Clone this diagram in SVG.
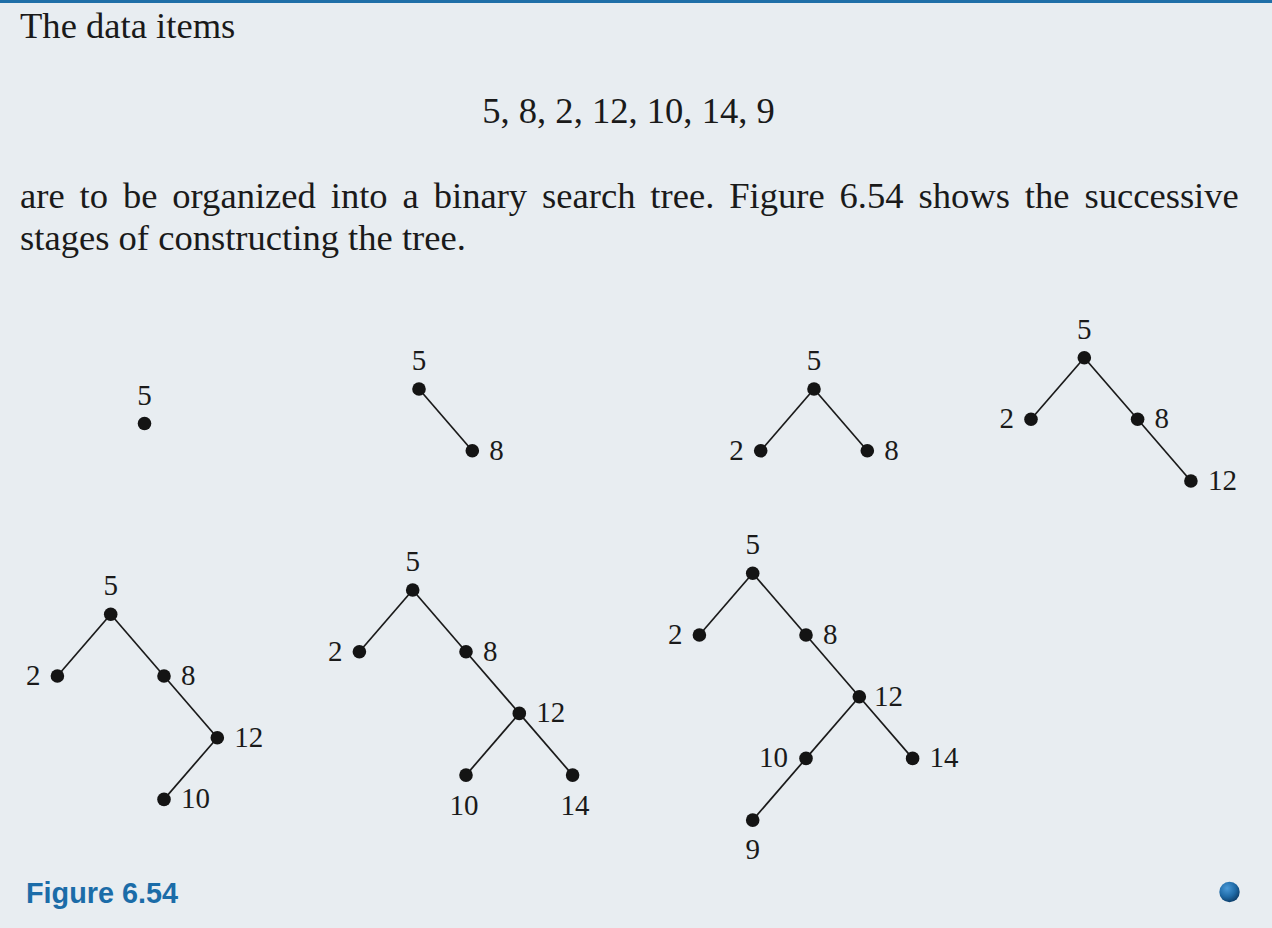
<svg xmlns="http://www.w3.org/2000/svg" width="1272" height="928" viewBox="0 0 1272 928">
<defs>
<style>
.bg{fill:#e8edf1}
.body{font-family:"Liberation Serif","Times New Roman",serif;font-size:36.6px;fill:#1a1a1a}
.lbl{font-family:"Liberation Serif","Times New Roman",serif;font-size:29px;fill:#1a1a1a}
.mid{text-anchor:middle}
.end{text-anchor:end}
.dot{fill:#141414}
.edge{stroke:#1a1a1a;stroke-width:1.7;fill:none}
.cap{font-family:"Liberation Sans",Arial,sans-serif;font-weight:bold;font-size:28.8px;fill:#1b6ca8}
</style>
<radialGradient id="ball" cx="0.38" cy="0.32" r="0.7">
<stop offset="0" stop-color="#4a9ad8"/>
<stop offset="0.6" stop-color="#1f6aa6"/>
<stop offset="1" stop-color="#0d3f6b"/>
</radialGradient>
</defs>
<rect class="bg" x="0" y="0" width="1272" height="928"/>
<rect x="0" y="0" width="1272" height="3" fill="#1f6fa8"/>

<g id="intro">
<text class="body" x="20" y="38">The data items</text>
<text class="body mid" x="628.5" y="123">5, 8, 2, 12, 10, 14, 9</text>
<text class="body" x="20" y="208" word-spacing="5.75">are to be organized into a binary search tree. Figure 6.54 shows the successive</text>
<text class="body" x="20" y="250">stages of constructing the tree.</text>
</g>

<g id="connectors">
<!-- tree 2 -->
<line class="edge" x1="419" y1="389" x2="472.3" y2="450.7"/>
<!-- tree 3 -->
<line class="edge" x1="814" y1="389" x2="760.7" y2="450.7"/>
<line class="edge" x1="814" y1="389" x2="867.3" y2="450.7"/>
<!-- tree 4 -->
<line class="edge" x1="1084.3" y1="357.7" x2="1031" y2="419.3"/>
<line class="edge" x1="1084.3" y1="357.7" x2="1137.6" y2="419.3"/>
<line class="edge" x1="1137.6" y1="419.3" x2="1190.9" y2="481"/>
<!-- tree 5 -->
<line class="edge" x1="110.7" y1="614.3" x2="57.4" y2="676"/>
<line class="edge" x1="110.7" y1="614.3" x2="164" y2="676"/>
<line class="edge" x1="164" y1="676" x2="217.3" y2="737.7"/>
<line class="edge" x1="217.3" y1="737.7" x2="164" y2="799.4"/>
<!-- tree 6 -->
<line class="edge" x1="412.7" y1="590" x2="359.4" y2="651.7"/>
<line class="edge" x1="412.7" y1="590" x2="466" y2="651.7"/>
<line class="edge" x1="466" y1="651.7" x2="519.3" y2="713.4"/>
<line class="edge" x1="519.3" y1="713.4" x2="466" y2="775.1"/>
<line class="edge" x1="519.3" y1="713.4" x2="572.6" y2="775.1"/>
<!-- tree 7 -->
<line class="edge" x1="752.7" y1="573.3" x2="699.4" y2="635"/>
<line class="edge" x1="752.7" y1="573.3" x2="806" y2="635"/>
<line class="edge" x1="806" y1="635" x2="859.3" y2="696.7"/>
<line class="edge" x1="859.3" y1="696.7" x2="806" y2="758.4"/>
<line class="edge" x1="859.3" y1="696.7" x2="912.6" y2="758.4"/>
<line class="edge" x1="806" y1="758.4" x2="752.7" y2="820.1"/>
</g>

<g id="tree1">
<g id="t1-n5"><circle class="dot" cx="144.5" cy="423.5" r="6.8"/><text class="lbl mid" x="144.5" y="404.5">5</text></g>
</g>

<g id="tree2">
<g id="t2-n5"><circle class="dot" cx="419" cy="389" r="6.8"/><text class="lbl mid" x="419" y="370">5</text></g>
<g id="t2-n8"><circle class="dot" cx="472.3" cy="450.7" r="6.8"/><text class="lbl" x="489.3" y="459.7">8</text></g>
</g>

<g id="tree3">
<g id="t3-n5"><circle class="dot" cx="814" cy="389" r="6.8"/><text class="lbl mid" x="814" y="370">5</text></g>
<g id="t3-n2"><circle class="dot" cx="760.7" cy="450.7" r="6.8"/><text class="lbl end" x="743.7" y="459.7">2</text></g>
<g id="t3-n8"><circle class="dot" cx="867.3" cy="450.7" r="6.8"/><text class="lbl" x="884.3" y="459.7">8</text></g>
</g>

<g id="tree4">
<g id="t4-n5"><circle class="dot" cx="1084.3" cy="357.7" r="6.8"/><text class="lbl mid" x="1084.3" y="338.7">5</text></g>
<g id="t4-n2"><circle class="dot" cx="1031" cy="419.3" r="6.8"/><text class="lbl end" x="1014" y="428.3">2</text></g>
<g id="t4-n8"><circle class="dot" cx="1137.6" cy="419.3" r="6.8"/><text class="lbl" x="1154.6" y="428.3">8</text></g>
<g id="t4-n12"><circle class="dot" cx="1190.9" cy="481" r="6.8"/><text class="lbl" x="1207.9" y="490">12</text></g>
</g>

<g id="tree5">
<g id="t5-n5"><circle class="dot" cx="110.7" cy="614.3" r="6.8"/><text class="lbl mid" x="110.7" y="595.3">5</text></g>
<g id="t5-n2"><circle class="dot" cx="57.4" cy="676" r="6.8"/><text class="lbl end" x="40.4" y="685">2</text></g>
<g id="t5-n8"><circle class="dot" cx="164" cy="676" r="6.8"/><text class="lbl" x="181" y="685">8</text></g>
<g id="t5-n12"><circle class="dot" cx="217.3" cy="737.7" r="6.8"/><text class="lbl" x="234.3" y="746.7">12</text></g>
<g id="t5-n10"><circle class="dot" cx="164" cy="799.4" r="6.8"/><text class="lbl" x="181" y="808.4">10</text></g>
</g>

<g id="tree6">
<g id="t6-n5"><circle class="dot" cx="412.7" cy="590" r="6.8"/><text class="lbl mid" x="412.7" y="571">5</text></g>
<g id="t6-n2"><circle class="dot" cx="359.4" cy="651.7" r="6.8"/><text class="lbl end" x="342.4" y="660.7">2</text></g>
<g id="t6-n8"><circle class="dot" cx="466" cy="651.7" r="6.8"/><text class="lbl" x="483" y="660.7">8</text></g>
<g id="t6-n12"><circle class="dot" cx="519.3" cy="713.4" r="6.8"/><text class="lbl" x="536.3" y="722.4">12</text></g>
<g id="t6-n10"><circle class="dot" cx="466" cy="775.1" r="6.8"/><text class="lbl mid" x="464" y="814.5">10</text></g>
<g id="t6-n14"><circle class="dot" cx="572.6" cy="775.1" r="6.8"/><text class="lbl mid" x="575" y="814.5">14</text></g>
</g>

<g id="tree7">
<g id="t7-n5"><circle class="dot" cx="752.7" cy="573.3" r="6.8"/><text class="lbl mid" x="752.7" y="554.3">5</text></g>
<g id="t7-n2"><circle class="dot" cx="699.4" cy="635" r="6.8"/><text class="lbl end" x="682.4" y="644">2</text></g>
<g id="t7-n8"><circle class="dot" cx="806" cy="635" r="6.8"/><text class="lbl" x="823" y="644">8</text></g>
<g id="t7-n12"><circle class="dot" cx="859.3" cy="696.7" r="6.8"/><text class="lbl" x="874" y="705.7">12</text></g>
<g id="t7-n10"><circle class="dot" cx="806" cy="758.4" r="6.8"/><text class="lbl end" x="788" y="767.4">10</text></g>
<g id="t7-n14"><circle class="dot" cx="912.6" cy="758.4" r="6.8"/><text class="lbl" x="929.6" y="767.4">14</text></g>
<g id="t7-n9"><circle class="dot" cx="752.7" cy="820.1" r="6.8"/><text class="lbl mid" x="752.7" y="858.5">9</text></g>
</g>

<g id="caption">
<text class="cap" x="26" y="903">Figure 6.54</text>
<circle cx="1229.5" cy="892" r="10.2" fill="url(#ball)"/>
</g>
</svg>
